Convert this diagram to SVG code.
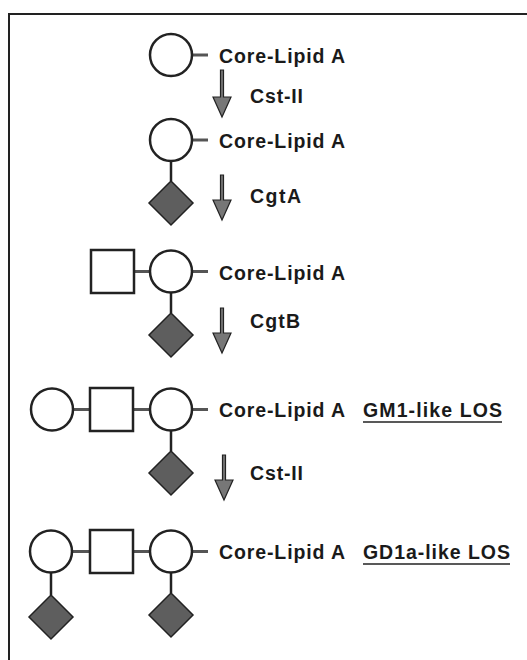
<svg xmlns="http://www.w3.org/2000/svg" width="527" height="660" viewBox="0 0 527 660">
<style>
.c{fill:#fff;stroke:#222;stroke-width:2.5}
.s{fill:#fff;stroke:#222;stroke-width:2.5}
.d{fill:#5e5e5e;stroke:#222;stroke-width:1.5}
.h{stroke:#555;stroke-width:3}
.v{stroke:#222;stroke-width:2.5}
.a{fill:#777;stroke:#222;stroke-width:1.2}
.t{font-family:"Liberation Sans",Arial,sans-serif;font-weight:bold;font-size:19.5px;fill:#1a1a1a}
.u{stroke:#222;stroke-width:1.6}
.f{stroke:#222;stroke-width:2;fill:none}
</style>
<g id="frame"><path class="f" d="M9,660 V14 H527"/></g>
<g id="connectors">
  <line class="h" x1="192" y1="55" x2="208" y2="55"/>
  <line class="h" x1="192" y1="140" x2="208" y2="140"/>
  <line class="v" x1="171" y1="161" x2="171" y2="181"/>
  <line class="h" x1="134" y1="271.5" x2="150" y2="271.5"/>
  <line class="h" x1="192" y1="271.5" x2="208" y2="271.5"/>
  <line class="v" x1="171" y1="292.5" x2="171" y2="313"/>
  <line class="h" x1="73" y1="409.5" x2="90" y2="409.5"/>
  <line class="h" x1="133" y1="409.5" x2="150" y2="409.5"/>
  <line class="h" x1="192" y1="409.5" x2="208" y2="409.5"/>
  <line class="v" x1="171" y1="430.5" x2="171" y2="451"/>
  <line class="h" x1="73" y1="551.5" x2="90" y2="551.5"/>
  <line class="h" x1="133" y1="551.5" x2="150" y2="551.5"/>
  <line class="h" x1="192" y1="551.5" x2="208" y2="551.5"/>
  <line class="v" x1="51" y1="572.5" x2="51" y2="595"/>
  <line class="v" x1="171" y1="572.5" x2="171" y2="593"/>
  <polygon id="arrow1" class="a" points="220.5,70 223.5,70 223.5,97 231,97 222,117 213,97 220.5,97"/>
  <polygon id="arrow2" class="a" points="220.5,175 223.5,175 223.5,200 231,200 222,220 213,200 220.5,200"/>
  <polygon id="arrow3" class="a" points="220.5,308 223.5,308 223.5,333 231,333 222,353 213,333 220.5,333"/>
  <polygon id="arrow4" class="a" points="222.5,455 225.5,455 225.5,480 233,480 224,500 215,480 222.5,480"/>
</g>
<g id="row1">
  <circle class="c" cx="171" cy="55" r="21"/>
  <text class="t" x="219" y="63" textLength="126">Core-Lipid A</text>
</g>
<g id="step1"><text class="t" x="250" y="103" textLength="53">Cst-II</text></g>
<g id="row2">
  <circle class="c" cx="171" cy="140" r="21"/>
  <text class="t" x="219" y="148" textLength="126">Core-Lipid A</text>
  <polygon class="d" points="171,181 193,203 171,225 149,203"/>
</g>
<g id="step2"><text class="t" x="250" y="203" textLength="51">CgtA</text></g>
<g id="row3">
  <rect class="s" x="91" y="250" width="43" height="43"/>
  <circle class="c" cx="171" cy="271.5" r="21"/>
  <text class="t" x="219" y="280" textLength="126">Core-Lipid A</text>
  <polygon class="d" points="171,313 193,335 171,357 149,335"/>
</g>
<g id="step3"><text class="t" x="250" y="328" textLength="50">CgtB</text></g>
<g id="row4">
  <circle class="c" cx="52" cy="409.5" r="21"/>
  <rect class="s" x="90" y="388" width="43" height="43"/>
  <circle class="c" cx="171" cy="409.5" r="21"/>
  <text class="t" x="219" y="417" textLength="126">Core-Lipid A</text>
  <text class="t" x="363" y="417" textLength="139">GM1-like LOS</text>
  <line class="u" x1="363" y1="422" x2="502" y2="422"/>
  <polygon class="d" points="171,451 193,473 171,495 149,473"/>
</g>
<g id="step4"><text class="t" x="250" y="480" textLength="53">Cst-II</text></g>
<g id="row5">
  <circle class="c" cx="51" cy="551.5" r="21"/>
  <rect class="s" x="90" y="530" width="43" height="43"/>
  <circle class="c" cx="171" cy="551.5" r="21"/>
  <text class="t" x="219" y="559" textLength="126">Core-Lipid A</text>
  <text class="t" x="363" y="559" textLength="147">GD1a-like LOS</text>
  <line class="u" x1="363" y1="564" x2="510" y2="564"/>
  <polygon class="d" points="51,595 73,617 51,639 29,617"/>
  <polygon class="d" points="171,593 193,615 171,637 149,615"/>
</g>
</svg>
